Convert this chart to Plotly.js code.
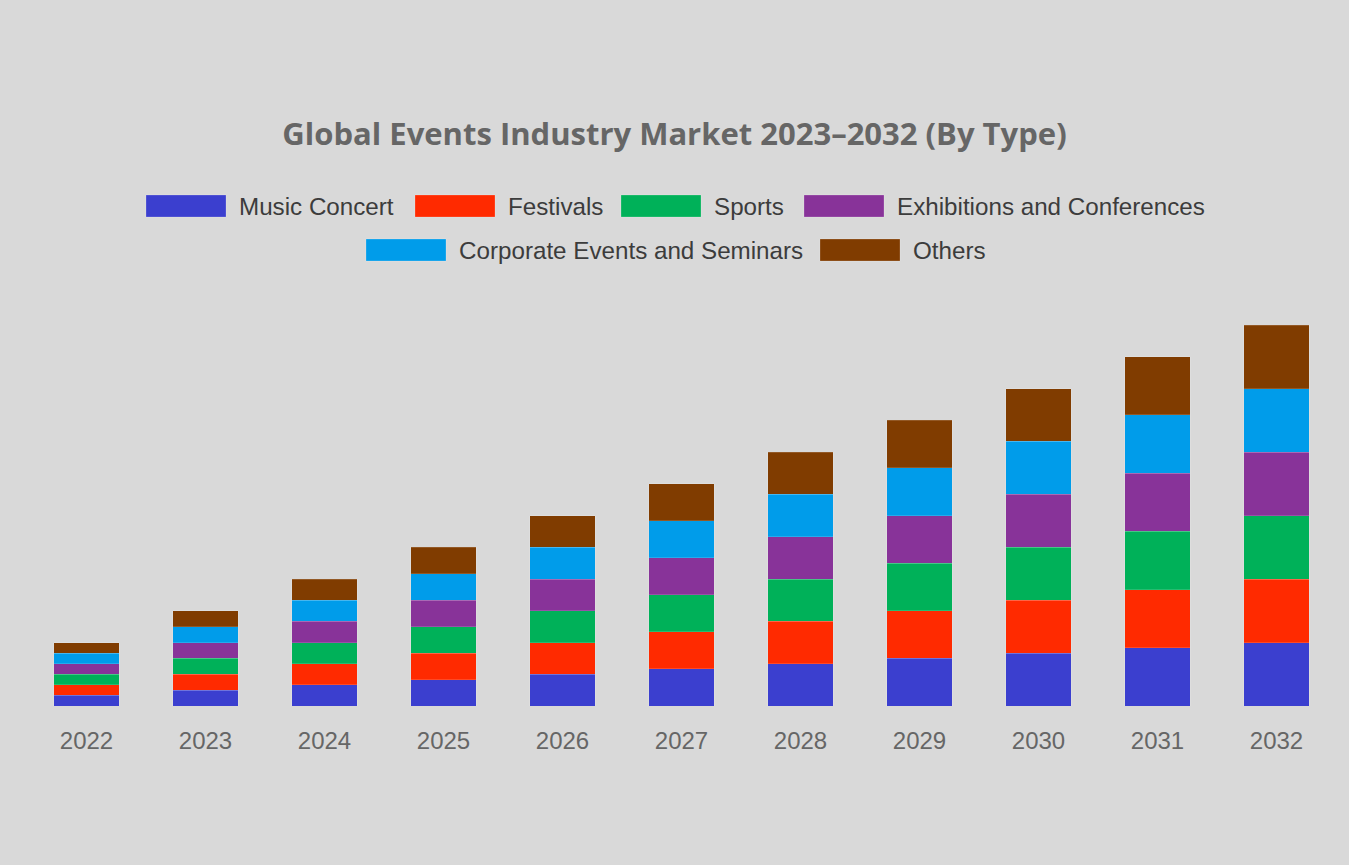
<!DOCTYPE html>
<html>
<head>
<meta charset="utf-8">
<script src="https://cdn.plot.ly/plotly-3.0.1.min.js"></script>
<style>html,body{margin:0;padding:0;background:#d9d9d9;}#chart{width:1349px;height:865px;}</style>
</head>
<body>
<div id="chart"></div>
<script>
const years = ['2022','2023','2024','2025','2026','2027','2028','2029','2030','2031','2032'];
const seriesNames = ['Music Concert','Festivals','Sports','Exhibitions and Conferences','Corporate Events and Seminars','Others'];
const musicConcert   = [10,15,20,25,30,35,40,45,50,55,60];
const festivals      = [10,15,20,25,30,35,40,45,50,55,60];
const sports         = [10,15,20,25,30,35,40,45,50,55,60];
const exhibitions    = [10,15,20,25,30,35,40,45,50,55,60];
const corporate      = [10,15,20,25,30,35,40,45,50,55,60];
const others         = [10,15,20,25,30,35,40,45,50,55,60];
const seriesValues = [musicConcert, festivals, sports, exhibitions, corporate, others];
const colors = ['#3b3fcf','#ff2a00','#00b159','#883399','#009cea','#803c00'];

const W = 1349, H = 865;
const M = {l:27, r:13, t:300, b:159};
const plotW = W - M.l - M.r, plotH = H - M.t - M.b;
const px2x = p => (p - M.l) / plotW;
const px2y = p => (H - M.b - p) / plotH;

const traces = seriesNames.map((n,i) => ({
  type:'bar', name:n, x:years, y:seriesValues[i],
  marker:{color:colors[i], line:{color:'rgba(255,255,255,0.25)', width:0.6}},
  showlegend:false, hoverinfo:'x+y+name'
}));

// custom legend (wide swatches), layout positions in pixels
const legendLayout = [
  {sx:146, row:0}, {sx:415, row:0}, {sx:621, row:0}, {sx:804, row:0},
  {sx:366, row:1}, {sx:820, row:1}
];
const rowTop = [195, 239];
const swW = 80, swH = 22;
const shapes = [], annotations = [];
legendLayout.forEach((p,i) => {
  const top = rowTop[p.row];
  shapes.push({type:'rect', xref:'paper', yref:'paper',
    x0:px2x(p.sx), x1:px2x(p.sx+swW), y0:px2y(top+swH), y1:px2y(top),
    fillcolor:colors[i], line:{width:0.6, color:'rgba(255,255,255,0.35)'}});
  annotations.push({xref:'paper', yref:'paper', x:px2x(p.sx+swW+11), y:px2y(top+swH/2),
    xanchor:'left', yanchor:'middle', text:seriesNames[i], showarrow:false,
    font:{family:'Liberation Sans, Arial, sans-serif', size:24.2, color:'#3c3c3c'}});
});

const layout = {
  width:W, height:H,
  paper_bgcolor:'#d9d9d9', plot_bgcolor:'#d9d9d9',
  margin:M,
  barmode:'stack', bargap:0.45,
  title:{text:'<b>Global Events Industry Market 2023–2032 (By Type)</b>',
    font:{family:'Open Sans, sans-serif', size:31, color:'#666666'},
    x:0.5, xanchor:'center', xref:'container', y:1-134/H, yref:'container', yanchor:'middle'},
  xaxis:{type:'category', showgrid:false, zeroline:false, showline:false, ticks:'',
    tickfont:{family:'Liberation Sans, Arial, sans-serif', size:24, color:'#666666'},
    ticklabelstandoff:18},
  yaxis:{range:[0, 360*plotH/381], visible:false, showgrid:false, zeroline:false},
  shapes:shapes, annotations:annotations, showlegend:false
};
Plotly.newPlot('chart', traces, layout, {displayModeBar:false, staticPlot:true});
</script>
</body>
</html>
